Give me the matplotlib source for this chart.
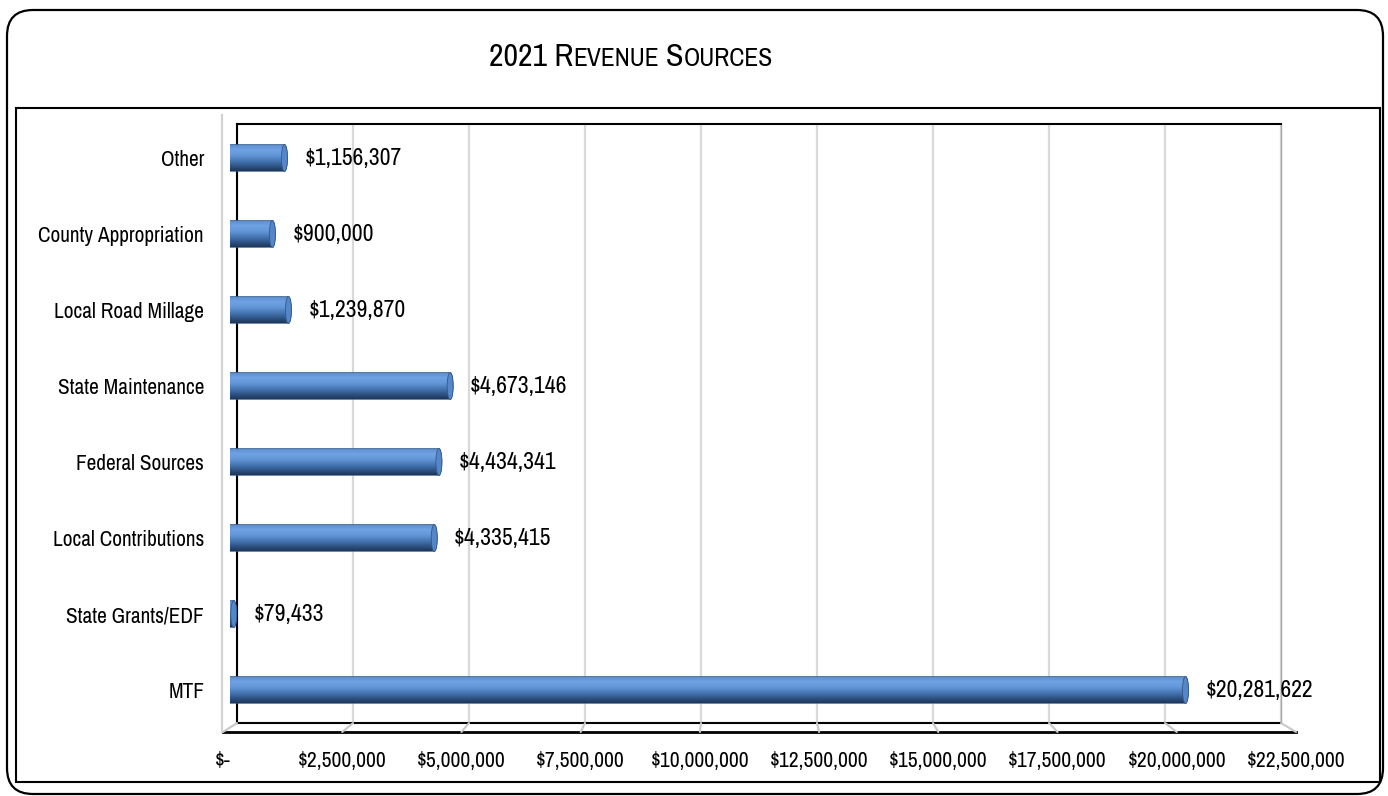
import numpy as np
import matplotlib
matplotlib.use("Agg")
import matplotlib.pyplot as plt
from matplotlib.patches import FancyBboxPatch, Rectangle, PathPatch, Ellipse, ConnectionPatch
from matplotlib.path import Path
from matplotlib.colors import LinearSegmentedColormap
from matplotlib.lines import Line2D

## data
categories = ["Other", "County Appropriation", "Local Road Millage", "State Maintenance",
              "Federal Sources", "Local Contributions", "State Grants/EDF", "MTF"]
values = [1156307, 900000, 1239870, 4673146, 4434341, 4335415, 79433, 20281622]
ticks = [0, 2500000, 5000000, 7500000, 10000000, 12500000, 15000000, 17500000, 20000000, 22500000]
tick_labels = ["$-"] + ["${:,}".format(t) for t in ticks[1:]]
title_parts = [("2021 R", True), ("EVENUE", False), ("S", True), ("OURCES", False)]

plt.rcParams["font.family"] = ["Archivo Narrow", "DejaVu Sans"]
plt.rcParams["font.stretch"] = "condensed"

W, H = 1388, 796
PT = 0.72  # points per pixel at 100 dpi

def box(l, t, r, b):
    # pixel box measured from the top-left corner -> figure fraction rect
    return [l / W, 1 - b / H, (r - l) / W, (b - t) / H]

fig = plt.figure(figsize=(W / 100, H / 100), dpi=100)

## frames
outer = FancyBboxPatch((7 / 100, 2 / 100), 1376 / 100, 784 / 100,
                       boxstyle="round,pad=0,rounding_size=0.26",
                       transform=fig.dpi_scale_trans, fill=False, ec="black", lw=1.6)
fig.add_artist(outer)
inner = Rectangle((16 / W, 1 - 782 / H), 1364 / W, 674 / H, transform=fig.transFigure,
                  fill=False, ec="black", lw=1.5)
fig.add_artist(inner)
fig.add_artist(Line2D([222 / W, 222 / W], [1 - 115 / H, 1 - 732 / H], transform=fig.transFigure,
                      color="#d3d3d3", lw=1.6))

## back wall with gridlines
axw = fig.add_axes(box(237, 124, 1281, 723))
axw.set_xlim(0, ticks[-1])
axw.set_ylim(0, 1)
for t in ticks:
    axw.axvline(t, color="#d9d9d9", lw=1.6, zorder=0)
axw.set_xticks([])
axw.set_yticks([])
for s in ["top", "left", "bottom"]:
    axw.spines[s].set_color("black")
    axw.spines[s].set_linewidth(1.5)
axw.spines["right"].set_color("#a8a8a8")
axw.spines["right"].set_linewidth(1.0)
axw.patch.set_alpha(0)

## floor front edge, carries the tick labels
axf = fig.add_axes(box(223, 124, 1296, 732))
axf.set_xlim(0, ticks[-1])
axf.set_ylim(0, 1)
axf.set_xticks(ticks)
axf.set_xticklabels(tick_labels, fontsize=15.5)
axf.tick_params(axis="x", length=0, pad=14)
axf.set_yticks([])
for s in ["top", "left", "right"]:
    axf.spines[s].set_visible(False)
axf.spines["bottom"].set_linewidth(2)
axf.patch.set_alpha(0)

for t in ticks:
    fig.add_artist(ConnectionPatch(xyA=(t, 0), coordsA=axw.transData, xyB=(t, 0),
                                   coordsB=axf.transData, color="#c8c8c8", lw=1.5))

## bars
ax = fig.add_axes(box(230, 120, 1290, 728))
ax.patch.set_alpha(0)
xmax = ticks[-1]
rx = 3 * xmax / 1060.0          # end cap radius, 3 px
hh = 13.5 / 76.0                # half bar height

cyl = LinearSegmentedColormap.from_list("cyl", [
    (0.0, "#5a89c8"), (0.2, "#70a3e4"), (0.42, "#6196d8"),
    (0.66, "#4270ab"), (0.86, "#2b4e7e"), (1.0, "#1e3759")])
grad = np.linspace(0, 1, 64).reshape(-1, 1)

th = np.linspace(-np.pi / 2, np.pi / 2, 40)
for i, v in enumerate(values):
    right = np.c_[v + rx * np.cos(th), i + hh * np.sin(th)]
    left = np.c_[-rx * np.cos(th), i - hh * np.sin(th)]
    verts = np.vstack([right, left, right[:1]])
    patch = PathPatch(Path(verts), fc="none", ec="#35598a", lw=0.5, zorder=3)
    ax.add_patch(patch)
    im = ax.imshow(grad, cmap=cyl, extent=(-rx, v + rx, i + hh, i - hh),
                   aspect="auto", interpolation="bilinear", zorder=2)
    im.set_clip_path(patch)
    ax.add_patch(Ellipse((v, i), 2 * rx, 2 * hh, fc="#5586c8", ec="#34598b", lw=0.6, zorder=4))
    ax.annotate("${:,}".format(v), xy=(v, i), xytext=(20 * PT, 0), textcoords="offset points",
                va="center", ha="left", fontsize=17)

ax.set_xlim(0, xmax)
ax.set_ylim(len(categories) - 0.5, -0.5)
ax.set_aspect("auto")
ax.set_yticks(range(len(categories)))
ax.set_yticklabels(categories, fontsize=15.3)
ax.tick_params(axis="y", length=0, pad=26 * PT)
ax.set_xticks([])
for s in ax.spines.values():
    s.set_visible(False)

## title in small caps
renderer = fig.canvas.get_renderer()
pieces = [fig.text(0, 0, s, fontsize=23 if big else 18.4, va="baseline") for s, big in title_parts]
widths = [p.get_window_extent(renderer).width for p in pieces]
gap = 7
x = 631 - (sum(widths) + gap) / 2
for k, (p, w) in enumerate(zip(pieces, widths)):
    p.set_position((x / W, 1 - 66 / H))
    x += w + (gap if k == 1 else 0)

fig.savefig("out.png", dpi=100)
